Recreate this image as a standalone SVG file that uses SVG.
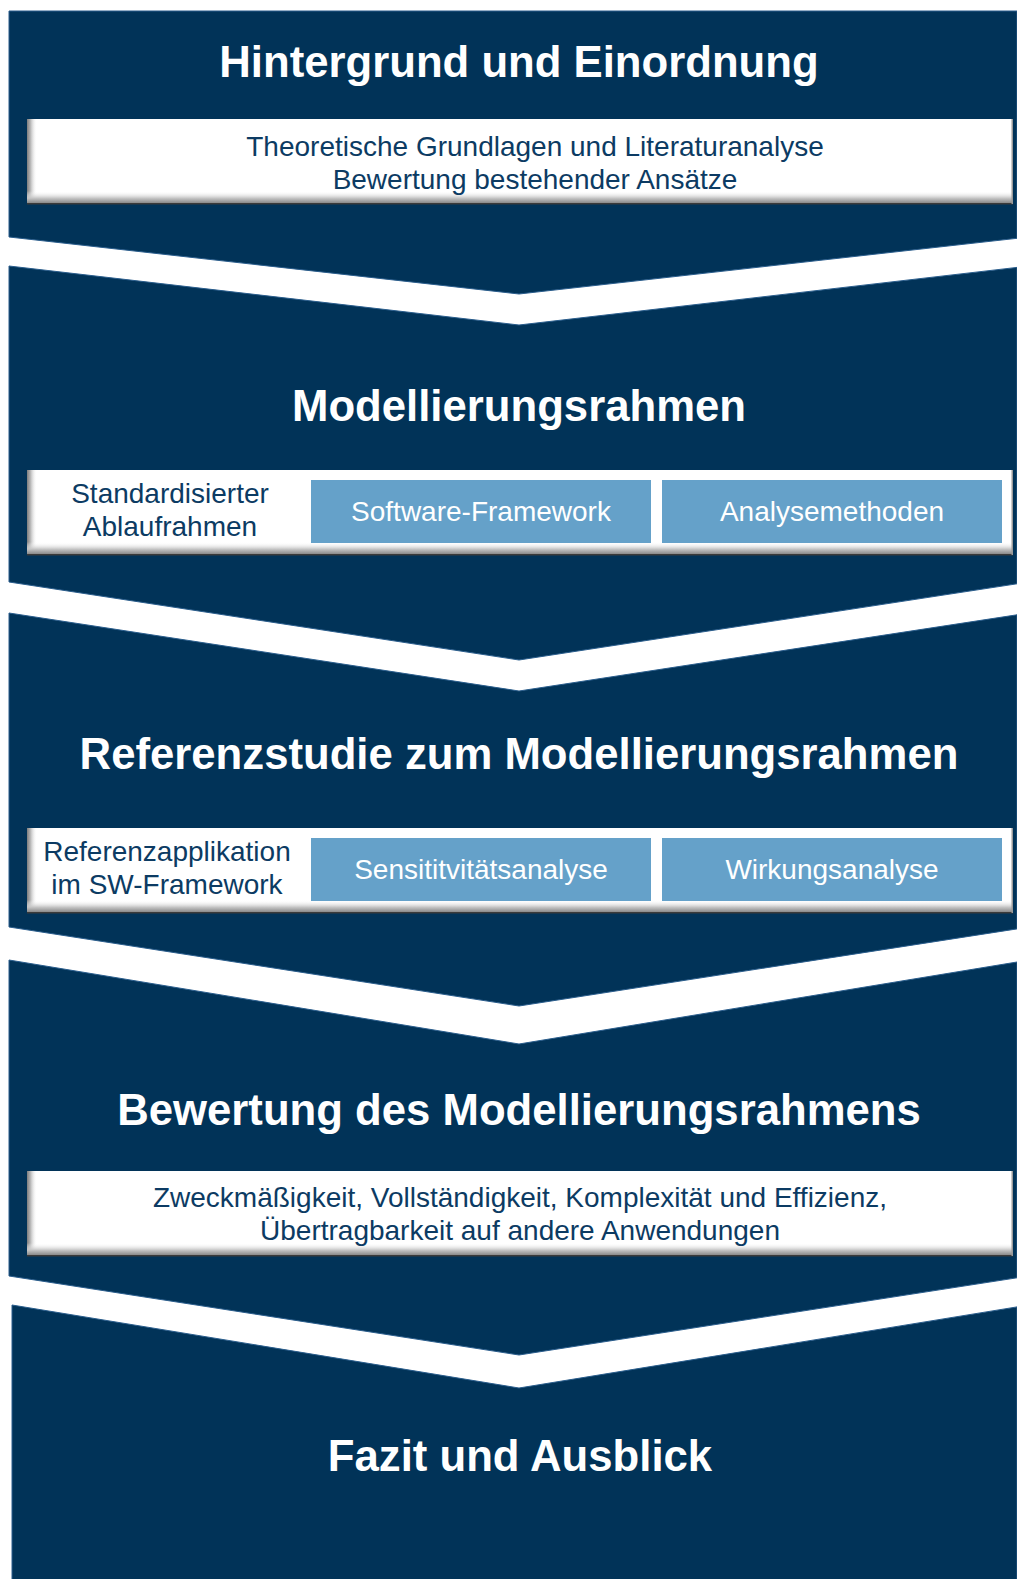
<svg xmlns="http://www.w3.org/2000/svg" width="1017" height="1579" viewBox="0 0 1017 1579">
<defs>
<linearGradient id="gl" x1="0" y1="0" x2="1" y2="0">
<stop offset="0" stop-color="#7d7d7d"/>
<stop offset="0.35" stop-color="#b8b8b8"/>
<stop offset="1" stop-color="#ffffff" stop-opacity="0"/>
</linearGradient>
<linearGradient id="gb" x1="0" y1="0" x2="0" y2="1">
<stop offset="0" stop-color="#ffffff" stop-opacity="0"/>
<stop offset="0.6" stop-color="#c4c4c4"/>
<stop offset="1" stop-color="#8a8a8a"/>
</linearGradient>
<style>
.blk{fill:#013358;stroke:#2a5d8c;stroke-width:1}
.title{font-family:"Liberation Sans",Arial,sans-serif;font-weight:bold;font-size:43.7px;fill:#ffffff;text-anchor:middle}
.txt{font-family:"Liberation Sans",Arial,sans-serif;font-size:28px;fill:#0c3b63;text-anchor:middle}
.wtxt{font-family:"Liberation Sans",Arial,sans-serif;font-size:28px;fill:#ffffff;text-anchor:middle}
.wbox{fill:#ffffff}
.bbox{fill:#65a1c9}
.sl{fill:url(#gl)}
.sb{fill:url(#gb)}
.edge{fill:#3a3a3a}
</style>
</defs>
<rect width="1017" height="1579" fill="#ffffff"/>

<g id="step1">
<polygon class="blk" points="9,11 1017,11 1017,238.3 519,294 9,237"/>
<text class="title" x="519" y="77">Hintergrund und Einordnung</text>
<g id="box1">
<rect class="wbox" x="27" y="119" width="986" height="85"/>
<rect class="sl" x="27" y="119" width="10" height="85"/>
<rect class="sb" x="27" y="191" width="986" height="12"/>
<rect class="edge" x="27" y="203" width="986" height="1.5"/>
<rect fill="#9a9a9a" x="1011.5" y="119" width="1.5" height="85"/>
<text class="txt" x="535" y="156">Theoretische Grundlagen und Literaturanalyse</text>
<text class="txt" x="535" y="189">Bewertung bestehender Ansätze</text>
</g>
</g>

<g id="step2">
<polygon class="blk" points="9,266 519,325 1017,267.4 1017,583.8 519,660 9,582"/>
<text class="title" x="519" y="421">Modellierungsrahmen</text>
<g id="box2">
<rect class="wbox" x="27" y="470" width="986" height="85"/>
<rect class="sl" x="27" y="470" width="10" height="85"/>
<rect class="sb" x="27" y="542" width="986" height="12"/>
<rect class="edge" x="27" y="554" width="986" height="1.5"/>
<rect fill="#9a9a9a" x="1011.5" y="470" width="1.5" height="85"/>
<text class="txt" x="170" y="503">Standardisierter</text>
<text class="txt" x="170" y="536">Ablaufrahmen</text>
</g>
<g id="sw-framework">
<rect class="bbox" x="311" y="480" width="340" height="63"/>
<text class="wtxt" x="481" y="521">Software-Framework</text>
</g>
<g id="analysemethoden">
<rect class="bbox" x="662" y="480" width="340" height="63"/>
<text class="wtxt" x="832" y="521">Analysemethoden</text>
</g>
</g>

<g id="step3">
<polygon class="blk" points="9,613 519,691 1017,614.8 1017,928.9 519,1006 9,927"/>
<text class="title" x="519" y="769">Referenzstudie zum Modellierungsrahmen</text>
<g id="box3">
<rect class="wbox" x="27" y="828" width="986" height="85"/>
<rect class="sl" x="27" y="828" width="10" height="85"/>
<rect class="sb" x="27" y="900" width="986" height="12"/>
<rect class="edge" x="27" y="912" width="986" height="1.5"/>
<rect fill="#9a9a9a" x="1011.5" y="828" width="1.5" height="85"/>
<text class="txt" x="167" y="861">Referenzapplikation</text>
<text class="txt" x="167" y="894">im SW-Framework</text>
</g>
<g id="sensitivitaet">
<rect class="bbox" x="311" y="838" width="340" height="63"/>
<text class="wtxt" x="481" y="879">Sensititvitätsanalyse</text>
</g>
<g id="wirkung">
<rect class="bbox" x="662" y="838" width="340" height="63"/>
<text class="wtxt" x="832" y="879">Wirkungsanalyse</text>
</g>
</g>

<g id="step4">
<polygon class="blk" points="9,960 519,1044 1017,962 1017,1277.8 519,1355 9,1276"/>
<text class="title" x="519" y="1125">Bewertung des Modellierungsrahmens</text>
<g id="box4">
<rect class="wbox" x="27" y="1171" width="986" height="85"/>
<rect class="sl" x="27" y="1171" width="10" height="85"/>
<rect class="sb" x="27" y="1243" width="986" height="12"/>
<rect class="edge" x="27" y="1255" width="986" height="1.5"/>
<rect fill="#9a9a9a" x="1011.5" y="1171" width="1.5" height="85"/>
<text class="txt" x="520" y="1207">Zweckmäßigkeit, Vollständigkeit, Komplexität und Effizienz,</text>
<text class="txt" x="520" y="1240">Übertragbarkeit auf andere Anwendungen</text>
</g>
</g>

<g id="step5">
<polygon class="blk" points="12,1305 519,1388 1017,1306.9 1017,1580 12,1580"/>
<text class="title" x="520" y="1471">Fazit und Ausblick</text>
</g>

<g id="connectors"></g>
</svg>
